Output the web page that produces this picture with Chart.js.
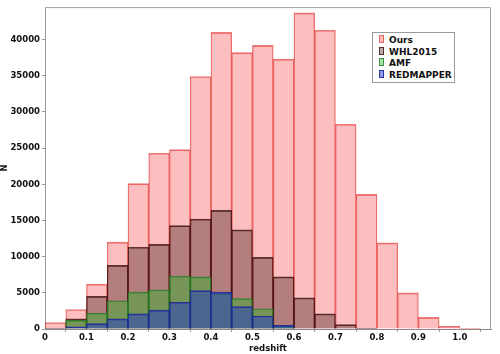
<!DOCTYPE html>
<html>
<head>
<meta charset="utf-8">
<script src="https://cdn.jsdelivr.net/npm/chart.js@4.4.0/dist/chart.umd.min.js"></script>
<style>
  html, body { margin: 0; padding: 0; background: #fff; }
  #wrap { position: relative; width: 500px; height: 354px; }
  #legend {
    position: absolute; left: 372px; top: 32px; width: 83px; height: 51px;
    border: 1px solid #9a9a9a; background: #fff;
    font: bold 9px "DejaVu Sans", sans-serif; color: #111;
    padding-top: 2px; box-sizing: border-box;
  }
  #legend div { height: 11.7px; line-height: 11.7px; padding-left: 6px; white-space: nowrap; }
  #legend span.sw { display: inline-block; width: 3px; height: 6px; margin-right: 5px; border: 1px solid; }
</style>
</head>
<body>
<div id="wrap">
  <canvas id="chart" width="500" height="354"></canvas>
  <div id="legend"></div>
</div>
<script>
// bin centres (bin width 0.05)
const binCenters = [0.025, 0.075, 0.125, 0.175, 0.225, 0.275, 0.325, 0.375, 0.425, 0.475,
                    0.525, 0.575, 0.625, 0.675, 0.725, 0.775, 0.825, 0.875, 0.925, 0.975, 1.025];
const seriesNames = ["Ours", "WHL2015", "AMF", "REDMAPPER"];

const ours      = [900, 2700, 6200, 12000, 20100, 24300, 24800, 34900, 41000, 38200,
                   39200, 37300, 43700, 41300, 28300, 18600, 11900, 5000, 1600, 400, 100];
const whl2015   = [100, 1400, 4500, 8800, 11300, 11700, 14300, 15200, 16400, 13700,
                   9900, 7200, 4300, 2100, 600, 100, null, null, null, null, null];
const amf       = [null, 1200, 2200, 3900, 5100, 5400, 7300, 7200, 4900, 4200,
                   2800, 400, null, null, null, null, null, null, null, null, null];
const redmapper = [null, 300, 750, 1400, 2100, 2600, 3700, 5300, 5100, 3100,
                   1800, 500, null, null, null, null, null, null, null, null, null];

const yTicks = [0, 5000, 10000, 15000, 20000, 25000, 30000, 35000, 40000];
const xTicks = [0, 0.1, 0.2, 0.3, 0.4, 0.5, 0.6, 0.7, 0.8, 0.9, 1.0];

const fills   = ["rgba(245,20,20,0.28)", "rgba(50,10,10,0.35)", "rgba(28,186,36,0.4)", "rgba(35,55,200,0.5)"];
const borders = ["rgba(225,50,50,0.65)", "rgba(60,15,15,0.8)", "rgba(40,120,40,0.8)", "rgba(25,35,140,0.85)"];

function toPoints(vals) {
    return vals.map((v, i) => ({ x: binCenters[i], y: v }));
}

const allSeries = [ours, whl2015, amf, redmapper];
const datasets = allSeries.map((vals, i) => ({
    label: seriesNames[i],
    data: toPoints(vals),
    backgroundColor: fills[i],
    borderColor: borders[i],
    borderWidth: { top: 1, left: 0.6, right: 0.6, bottom: 0 },
    borderSkipped: false,
    barPercentage: 1,
    categoryPercentage: 1,
    grouped: false,
    order: allSeries.length - i   // Ours underneath, REDMAPPER on top
}));

// gray frame round the plot area
const framePlugin = {
    id: "frame",
    afterDraw(chart) {
        const a = chart.chartArea;
        const c = chart.ctx;
        c.save();
        c.strokeStyle = "#a0a0a0";
        c.lineWidth = 1;
        c.beginPath();
        c.moveTo(a.left + 0.5, a.top + 0.5);
        c.lineTo(a.right - 0.5, a.top + 0.5);
        c.lineTo(a.right - 0.5, a.bottom);
        c.stroke();
        c.restore();
    }
};

const tickFont = { family: "DejaVu Sans", size: 8.5, weight: "bold" };

new Chart(document.getElementById("chart"), {
    type: "bar",
    data: { datasets: datasets },
    options: {
        responsive: false,
        animation: false,
        layout: { padding: { top: 5, right: 9, left: 0, bottom: 0 } },
        plugins: { legend: { display: false }, tooltip: { enabled: false } },
        scales: {
            x: {
                type: "linear",
                offset: false,
                min: 0,
                max: 1.075,
                afterBuildTicks: axis => { axis.ticks = xTicks.map(v => ({ value: v })); },
                afterFit: axis => { axis.height = 25; },
                ticks: {
                    color: "#111",
                    font: tickFont,
                    padding: 1,
                    maxRotation: 0,
                    callback: v => v === 0 ? "0" : Number(v).toFixed(1)
                },
                grid: { display: true, drawOnChartArea: false, drawTicks: true, tickLength: 3, color: "#999" },
                border: { display: true, color: "#888", dash: [2, 1] },
                title: { display: true, text: "redshift", color: "#111", font: tickFont, padding: 0 }
            },
            y: {
                min: 0,
                max: 44500,
                afterBuildTicks: axis => { axis.ticks = yTicks.map(v => ({ value: v })); },
                afterFit: axis => { axis.width = 45; },
                ticks: { color: "#111", font: tickFont, padding: 2, callback: v => String(v) },
                grid: { display: true, drawOnChartArea: false, drawTicks: true, tickLength: 3, color: "#999" },
                border: { display: true, color: "#999", dash: [2, 1] },
                title: { display: true, text: "N", color: "#111", font: tickFont, padding: 0 }
            }
        }
    },
    plugins: [framePlugin]
});

// legend built from the series
const legend = document.getElementById("legend");
seriesNames.forEach((name, i) => {
    const row = document.createElement("div");
    row.innerHTML = `<span class="sw" style="background:${fills[i]};border-color:${borders[i]}"></span>${name}`;
    legend.appendChild(row);
});
</script>
</body>
</html>
